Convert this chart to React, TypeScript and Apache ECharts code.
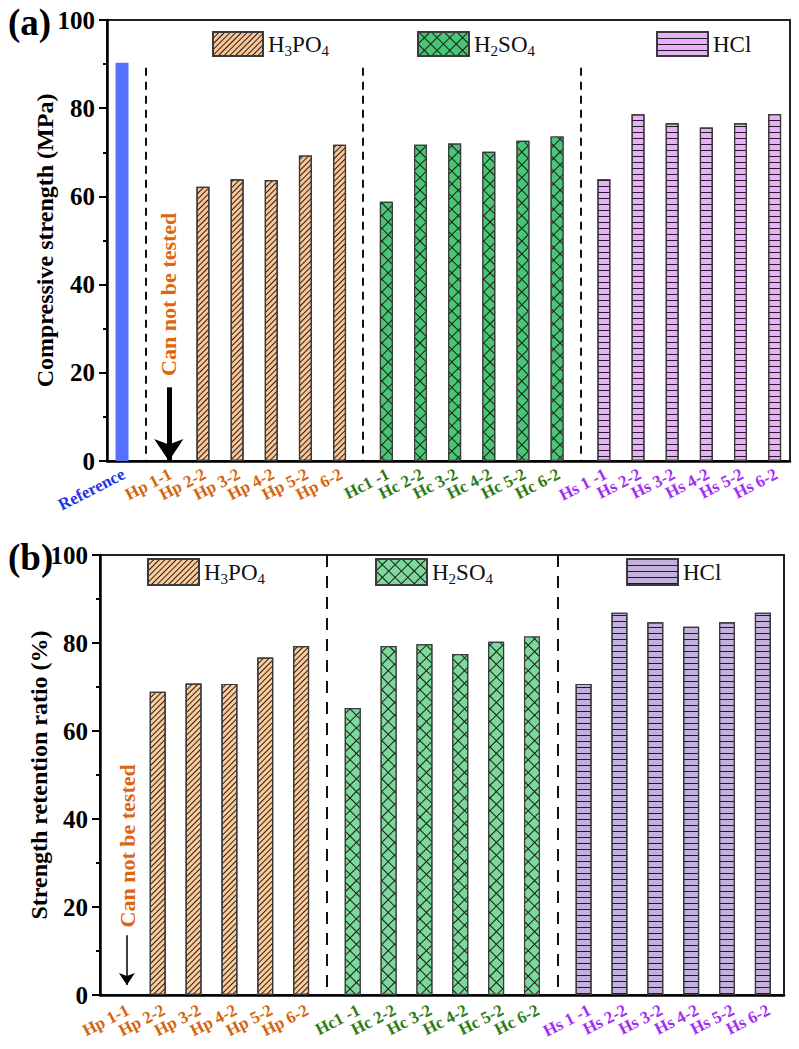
import React, { useEffect, useRef } from 'react';
import * as echarts from 'echarts';

const FONT = "'Liberation Serif', 'Times New Roman', serif";

// ---- categories ----
const referenceLabel = ['Reference'];
const hpLabels = ['Hp 1-1', 'Hp 2-2', 'Hp 3-2', 'Hp 4-2', 'Hp 5-2', 'Hp 6-2'];
const hcLabels = ['Hc1 -1', 'Hc 2-2', 'Hc 3-2', 'Hc 4-2', 'Hc 5-2', 'Hc 6-2'];
const hsLabels = ['Hs 1 -1', 'Hs 2-2', 'Hs 3-2', 'Hs 4-2', 'Hs 5-2', 'Hs 6-2'];

// ---- (a) compressive strength, MPa ----
const referenceStrength = [90.3];
const hpStrength = [null, 62.2, 63.9, 63.7, 69.3, 71.7];
const hcStrength = [58.8, 71.7, 72.0, 70.1, 72.6, 73.6];
const hsStrength = [63.9, 78.6, 76.6, 75.6, 76.6, 78.7];

// ---- (b) strength retention ratio, % ----
const hpRetention = [null, 68.9, 70.8, 70.7, 76.7, 79.3];
const hcRetention = [65.2, 79.3, 79.7, 77.5, 80.3, 81.5];
const hsRetention = [70.7, 86.9, 84.7, 83.7, 84.7, 86.9];

// ---- y ticks ----
const yTicks = { min: 0, max: 100, interval: 20 };

const labelColors = { ref: '#2433F0', p: '#D5640E', c: '#2E7B14', s: '#A42DF2' };

const legendRichName: Record<string, string> = {
  H3PO4: '{n|H}{s|3}{n|PO}{s|4}',
  H2SO4: '{n|H}{s|2}{n|SO}{s|4}',
  HCl: '{n|HCl}',
};

const legendRich = {
  n: { fontSize: 23, fontFamily: FONT, color: '#111', lineHeight: 28, verticalAlign: 'middle' },
  s: { fontSize: 15, fontFamily: FONT, color: '#111', lineHeight: 28, verticalAlign: 'bottom' },
};

const lineDecal = { symbol: 'rect', symbolSize: 1, dashArrayX: [1, 0], dashArrayY: [1, 3], rotation: -Math.PI / 4, color: 'rgba(0,0,0,0.85)' };
const crossDecal = (c: string) => ({ symbol: 'rect', symbolSize: 1, dashArrayX: [8, 1], dashArrayY: [8, 1], rotation: Math.PI / 4, color: c });
const horizDecal = { symbol: 'rect', symbolSize: 1, dashArrayX: [1, 0], dashArrayY: [1, 5], rotation: 0, color: 'rgba(0,0,0,0.85)' };

type Cfg = {
  tag: string;
  gap: number;
  withReference: boolean;
  hp: (number | null)[];
  hc: (number | null)[];
  hs: (number | null)[];
  yName: string;
  grid: any;
  xMin: number;
  xMax: number;
  barWidth: number;
  nameGap: number;
  labelMargin: number;
  labelShift: number;
  colors: { p: string; c: string; s: string };
  legends: { name: string; left: number; top: number; w: number; h: number }[];
  dashTop: number;
  dash: number[];
  arrow: { from: number; to: number; width: number; size: number; shift: number };
  note: { y: number; shift: number };
  titleTop: number;
};

function buildOption(cfg: Cfg) {
  const g = cfg.gap;
  const base = cfg.withReference ? g : 0;
  const refPos = cfg.withReference ? [0] : [];
  const pPos = hpLabels.map((_, i) => base + i);
  const cPos = hcLabels.map((_, i) => base + 5 + g + i);
  const sPos = hsLabels.map((_, i) => base + 10 + 2 * g + i);

  const labelMap: Record<string, string> = {};
  const key = (x: number) => (x + cfg.labelShift).toFixed(3);
  refPos.forEach((x, i) => (labelMap[key(x)] = `{ref|${referenceLabel[i]}}`));
  pPos.forEach((x, i) => (labelMap[key(x)] = `{p|${hpLabels[i]}}`));
  cPos.forEach((x, i) => (labelMap[key(x)] = `{c|${hcLabels[i]}}`));
  sPos.forEach((x, i) => (labelMap[key(x)] = `{s|${hsLabels[i]}}`));
  // empty end labels at the axis extent, so no real label is treated as min/max label
  const labelPos = [cfg.xMin, ...[...refPos, ...pPos, ...cPos, ...sPos].map((x) => x + cfg.labelShift), cfg.xMax];

  const toData = (pos: number[], vals: (number | null)[]) =>
    pos.map((x, i) => (vals[i] == null ? null : [x, vals[i]])).filter((d) => d !== null);

  const dashPositions: number[] = [];
  if (cfg.withReference) dashPositions.push((refPos[0] + pPos[0]) / 2);
  dashPositions.push((pPos[5] + cPos[0]) / 2);
  dashPositions.push((cPos[5] + sPos[0]) / 2);

  const richTok = (color: string) => ({ color, fontSize: 17, fontWeight: 'bold', fontFamily: FONT });

  const border = { borderColor: '#3a3a3a', borderWidth: 1.2 };
  const ax = pPos[0] + cfg.arrow.shift;

  const series: any[] = [];
  if (cfg.withReference) {
    series.push({
      name: 'Reference',
      type: 'bar',
      barWidth: cfg.barWidth,
      barGap: '-100%',
      data: toData(refPos, referenceStrength),
      itemStyle: { color: '#5570FA' },
    });
  }
  series.push({
    name: 'H3PO4',
    type: 'bar',
    barWidth: cfg.barWidth,
    barGap: '-100%',
    data: toData(pPos, cfg.hp),
    itemStyle: { color: cfg.colors.p, ...border, decal: lineDecal },
    markPoint: {
      silent: true,
      symbol: 'rect',
      symbolSize: 1,
      itemStyle: { color: 'rgba(0,0,0,0)' },
      data: [
        {
          coord: [pPos[0] + cfg.note.shift, cfg.note.y],
          label: {
            show: true,
            position: 'inside',
            formatter: 'Can not be tested',
            rotate: 90,
            color: '#E0650F',
            fontSize: 22,
            fontWeight: 'bold',
            fontFamily: FONT,
          },
        },
      ],
    },
    markLine: {
      silent: true,
      clip: false,
      symbol: ['none', 'arrow'],
      symbolSize: cfg.arrow.size,
      label: { show: false },
      lineStyle: { color: '#000', width: cfg.arrow.width, type: 'solid' },
      data: [
        [
          { coord: [ax, cfg.arrow.from], symbol: 'none' },
          { coord: [ax, cfg.arrow.to], symbol: 'arrow', symbolSize: cfg.arrow.size },
        ],
      ],
    },
  });
  series.push({
    name: 'H2SO4',
    type: 'bar',
    barWidth: cfg.barWidth,
    barGap: '-100%',
    data: toData(cPos, cfg.hc),
    itemStyle: { color: '#1a1a1a', ...border, decal: crossDecal(cfg.colors.c) },
    markLine: {
      silent: true,
      symbol: ['none', 'none'],
      label: { show: false },
      lineStyle: { color: '#111', width: 2, type: cfg.dash },
      data: dashPositions.map((x) => [{ coord: [x, cfg.dashTop] }, { coord: [x, 0] }]),
    },
  });
  series.push({
    name: 'HCl',
    type: 'bar',
    barWidth: cfg.barWidth,
    barGap: '-100%',
    data: toData(sPos, cfg.hs),
    itemStyle: { color: cfg.colors.s, ...border, decal: horizDecal },
  });

  return {
    animation: false,
    title: {
      text: cfg.tag,
      left: 8,
      top: cfg.titleTop,
      padding: 0,
      textStyle: { fontSize: 37, fontWeight: 'bold', fontFamily: FONT, color: '#000' },
    },
    legend: cfg.legends.map((l) => ({
      data: [l.name],
      left: l.left,
      top: l.top,
      padding: 0,
      icon: 'rect',
      itemWidth: l.w,
      itemHeight: l.h,
      selectedMode: false,
      formatter: (n: string) => legendRichName[n],
      textStyle: { rich: legendRich },
    })),
    grid: { ...cfg.grid, show: true, borderColor: '#222', borderWidth: 2, backgroundColor: 'transparent' },
    xAxis: {
      type: 'value',
      min: cfg.xMin,
      max: cfg.xMax,
      splitLine: { show: false },
      axisTick: { show: false },
      axisLine: { show: true, onZero: false, lineStyle: { color: '#000', width: 2.5 } },
      axisLabel: {
        customValues: labelPos,
        showMinLabel: false,
        showMaxLabel: false,
        hideOverlap: false,
        rotate: 27,
        margin: cfg.labelMargin,
        formatter: (v: number) => labelMap[v.toFixed(3)] || '',
        rich: {
          ref: richTok(labelColors.ref),
          p: richTok(labelColors.p),
          c: richTok(labelColors.c),
          s: richTok(labelColors.s),
        },
      },
    },
    yAxis: {
      type: 'value',
      min: yTicks.min,
      max: yTicks.max,
      interval: yTicks.interval,
      name: cfg.yName,
      nameLocation: 'middle',
      nameGap: cfg.nameGap,
      nameMoveOverlap: false,
      nameTextStyle: { fontSize: 24, fontWeight: 'bold', fontFamily: FONT, color: '#000' },
      splitLine: { show: false },
      axisLine: { show: true, onZero: false, lineStyle: { color: '#000', width: 2.5 } },
      axisTick: { show: true, length: 8, lineStyle: { color: '#000', width: 2 } },
      minorTick: { show: true, splitNumber: 2, length: 4, lineStyle: { color: '#000', width: 2 } },
      axisLabel: { fontSize: 25, fontWeight: 'bold', fontFamily: FONT, color: '#000', margin: 12 },
    },
    series,
  };
}

const topCfg: Cfg = {
  tag: '(a)',
  gap: 1.37,
  withReference: true,
  hp: hpStrength,
  hc: hcStrength,
  hs: hsStrength,
  yName: 'Compressive strength (MPa)',
  grid: { left: 107, right: 9, top: 20, height: 441 },
  xMin: -0.44,
  xMax: 19.56,
  barWidth: 13,
  nameGap: 50,
  labelMargin: 12,
  labelShift: 0.05,
  colors: { p: '#FAC597', c: '#48C676', s: '#E7B0F8' },
  legends: [
    { name: 'H3PO4', left: 212, top: 31, w: 50, h: 24 },
    { name: 'H2SO4', left: 417, top: 31, w: 51, h: 24 },
    { name: 'HCl', left: 656, top: 31, w: 51, h: 24 },
  ],
  dashTop: 89.2,
  dash: [8, 6],
  arrow: { from: 16.7, to: 0, width: 5, size: 22, shift: 0 },
  note: { y: 37.8, shift: 0 },
  titleTop: 4,
};

const bottomCfg: Cfg = {
  tag: '(b)',
  gap: 1.44,
  withReference: false,
  hp: hpRetention,
  hc: hcRetention,
  hs: hsRetention,
  yName: 'Strength retention ratio (%)',
  grid: { left: 100, right: 15, top: 30, height: 440 },
  xMin: -0.61,
  xMax: 18.47,
  barWidth: 16,
  nameGap: 49,
  labelMargin: 14,
  labelShift: 0.17,
  colors: { p: '#FDCB9A', c: '#7DD89B', s: '#C4B0DC' },
  legends: [
    { name: 'H3PO4', left: 147, top: 33, w: 51, h: 26 },
    { name: 'H2SO4', left: 375, top: 33, w: 51, h: 26 },
    { name: 'HCl', left: 626, top: 33, w: 51, h: 26 },
  ],
  dashTop: 100,
  dash: [12, 9],
  arrow: { from: 13.6, to: 2.3, width: 1.5, size: 12, shift: 0.14 },
  note: { y: 33.9, shift: 0.16 },
  titleTop: 14,
};

function ChartBox({ cfg, top, height }: { cfg: Cfg; top: number; height: number }) {
  const ref = useRef<HTMLDivElement>(null);
  useEffect(() => {
    if (!ref.current) return;
    const chart = echarts.init(ref.current, null, { renderer: 'svg' });
    chart.setOption(buildOption(cfg) as any);
    return () => chart.dispose();
  }, [cfg]);
  return <div ref={ref} style={{ position: 'absolute', left: 0, top, width: 799, height }} />;
}

export default function App() {
  return (
    <div style={{ position: 'fixed', left: 0, top: 0, width: 799, height: 1049, background: '#fff', overflow: 'hidden' }}>
      <ChartBox cfg={topCfg} top={0} height={525} />
      <ChartBox cfg={bottomCfg} top={525} height={524} />
    </div>
  );
}
